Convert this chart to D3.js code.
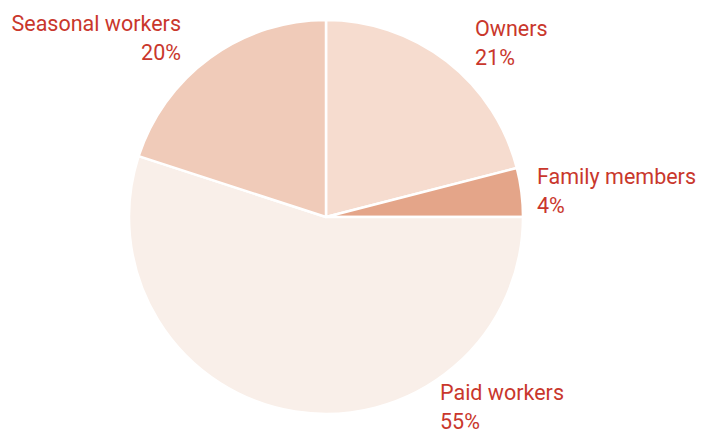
<!DOCTYPE html>
<html>
<head>
<meta charset="utf-8">
<script src="https://cdn.jsdelivr.net/npm/d3@7"></script>
<style>
  body { margin: 0; background: #fff; }
  text { font-family: Roboto, "Noto Sans", sans-serif; fill: #c9372c; font-size: 21.5px; }
</style>
</head>
<body>
<svg id="chart" width="701" height="433"></svg>
<script>
var categories = ["Owners", "Family members", "Paid workers", "Seasonal workers"];
var shares = [21, 4, 55, 20];
var colors = ["#f6dccf", "#e4a589", "#f9efe9", "#f0cbb9"];

// label anchor: [x, y of first line, text-anchor]
var labelPos = [
    [475, 36, "start"],
    [537, 184, "start"],
    [440, 400, "start"],
    [181, 31, "end"]
];

var svg = d3.select("#chart");
var cx = 326, cy = 217, r = 197;

var data = categories.map(function(c, i) {
    return { name: c, value: shares[i], color: colors[i] };
});

var pie = d3.pie().sort(null).value(function(d) { return d.value; });
var arc = d3.arc().innerRadius(0).outerRadius(r);

var g = svg.append("g").attr("transform", "translate(" + cx + "," + cy + ")");

g.selectAll("path")
    .data(pie(data))
    .enter().append("path")
    .attr("d", arc)
    .attr("fill", function(d) { return d.data.color; })
    .attr("stroke", "#fff")
    .attr("stroke-width", 2.5)
    .attr("stroke-linejoin", "round");

var labels = svg.selectAll("g.label")
    .data(data)
    .enter().append("g")
    .attr("class", "label");

labels.append("text")
    .attr("x", function(d, i) { return labelPos[i][0]; })
    .attr("y", function(d, i) { return labelPos[i][1]; })
    .attr("text-anchor", function(d, i) { return labelPos[i][2]; })
    .text(function(d) { return d.name; });

labels.append("text")
    .attr("x", function(d, i) { return labelPos[i][0]; })
    .attr("y", function(d, i) { return labelPos[i][1] + 28.5; })
    .attr("text-anchor", function(d, i) { return labelPos[i][2]; })
    .text(function(d) { return d.value + "%"; });
</script>
</body>
</html>
